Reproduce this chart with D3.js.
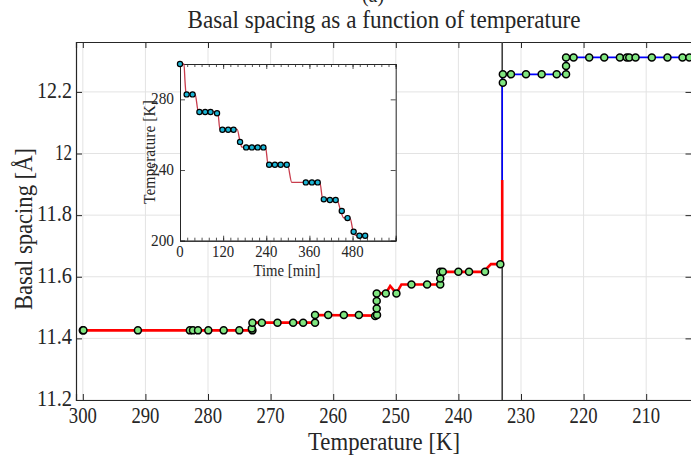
<!DOCTYPE html>
<html>
<head>
<meta charset="utf-8">
<script src="https://cdn.jsdelivr.net/npm/d3@7"></script>
<style>
  body { margin: 0; background: #fff; }
  svg { display: block; }
  text { font-family: "Liberation Serif", "DejaVu Serif", serif; fill: #262626; }
</style>
</head>
<body>
<div id="graph"></div>
<script>
// main axes ticks
const xTicks = [300, 290, 280, 270, 260, 250, 240, 230, 220, 210];
const yTicks = [11.2, 11.4, 11.6, 11.8, 12, 12.2];
const transitionT = 233;

// cooling trace (red) and measured points, [temperature K, spacing Å]
const coolLine = [[300, 11.426], [272.9, 11.426], [272.9, 11.451], [262.9, 11.451], [262.9, 11.476],
  [253.05, 11.474], [253.05, 11.546], [251.6, 11.546], [250.9, 11.57], [249.9, 11.546], [249.1, 11.575],
  [242.9, 11.575], [242.9, 11.616], [236, 11.616], [234.8, 11.641], [233.3, 11.641], [233.0, 11.65], [233.0, 11.914]];
const coolPts = [[300, 11.426], [299.9, 11.426], [291.2, 11.426], [282.9, 11.426], [282.4, 11.426], [281.6, 11.426],
  [279.95, 11.426], [277.5, 11.426], [275.0, 11.426], [272.9, 11.426], [273.0, 11.432], [272.9, 11.451],
  [271.4, 11.451], [268.9, 11.451], [266.4, 11.451], [264.8, 11.451], [262.9, 11.451], [262.9, 11.476],
  [260.8, 11.476], [258.3, 11.476], [255.9, 11.476], [253.3, 11.473], [253.0, 11.476], [253.05, 11.497],
  [253.05, 11.521], [253.05, 11.546], [251.6, 11.546], [249.9, 11.546], [247.5, 11.575], [245.0, 11.575],
  [242.9, 11.575], [242.9, 11.594], [242.9, 11.616], [242.5, 11.616], [240.0, 11.616], [238.3, 11.616],
  [235.75, 11.616], [233.3, 11.641]];

// after the transition (blue)
const heatLine = [[233.0, 11.64], [233.0, 12.257], [222.8, 12.257], [222.8, 12.312], [202, 12.312]];
const heatPts = [[232.9, 12.257], [232.9, 12.23], [231.6, 12.257], [229.2, 12.257], [226.7, 12.257],
  [224.3, 12.257], [222.8, 12.257], [222.8, 12.284], [222.8, 12.312], [221.6, 12.312], [219.1, 12.312],
  [216.7, 12.312], [214.2, 12.312], [213.1, 12.312], [212.7, 12.312], [211.7, 12.312], [209.1, 12.312],
  [206.6, 12.312], [204.2, 12.312], [203.1, 12.312]];

// inset: temperature vs time, [min, K]
const insetXTicks = [0, 120, 240, 360, 480];
const insetYTicks = [200, 240, 280];
const insetLine = [[0, 300], [11, 300], [14, 290], [17, 283], [42, 283], [51, 273], [105, 273], [111, 263],
  [159, 263], [167, 256], [172, 253], [238, 253], [245, 243], [299, 243], [311, 233], [389, 233], [397, 223.5],
  [436, 223.2], [447, 217], [455, 213], [473, 212.8], [482, 205], [489, 203], [520, 202.8]];
const insetPts = [[0, 300], [18.5, 282.8], [35, 282.8], [54, 272.8], [70, 272.8], [85, 272.8], [103, 272.1],
  [118, 262.8], [134, 262.8], [149, 262.8], [167, 255.9], [184, 252.8], [200, 252.8], [216, 252.8], [232, 252.8],
  [248, 243], [264, 243], [280, 243], [297, 243], [350, 233], [367, 233], [383, 233], [400, 223.4], [417, 223],
  [433, 223], [450, 216.8], [466, 212.8], [483, 205.1], [499, 202.8], [515, 202.8]];

const W = 691, H = 457;
const svg = d3.select("#graph").append("svg").attr("width", W).attr("height", H);
const axisCol = "#262626", gridCol = "#e3e3e3";

// fit a label to a measured width
const label = (g, txt, x, y, size, width, anchor) => {
  const t = g.append("text").attr("x", x).attr("y", y).attr("font-size", size)
    .attr("text-anchor", anchor || "middle").text(txt);
  if (width) t.attr("textLength", width).attr("lengthAdjust", "spacingAndGlyphs");
  return t;
};

const x = d3.scaleLinear().domain([301.09, 202.68]).range([76, 692]);
const y = d3.scaleLinear().domain([11.2, 12.362]).range([400, 42]);

const plot = svg.append("g");
// grid
plot.selectAll(".gx").data(xTicks).enter().append("line")
  .attr("x1", d => x(d)).attr("x2", d => x(d)).attr("y1", y.range()[0]).attr("y2", y.range()[1])
  .attr("stroke", gridCol).attr("stroke-width", 1);
plot.selectAll(".gy").data(yTicks).enter().append("line")
  .attr("x1", x.range()[0]).attr("x2", x.range()[1]).attr("y1", d => y(d)).attr("y2", d => y(d))
  .attr("stroke", gridCol).attr("stroke-width", 1);

// axes (inward ticks)
const axBottom = plot.append("g").attr("transform", `translate(0,${y.range()[0]})`)
  .call(d3.axisTop(x).tickValues(xTicks).tickSize(6).tickFormat(""));
const axTop = plot.append("g").attr("transform", `translate(0,${y.range()[1]})`)
  .call(d3.axisBottom(x).tickValues(xTicks).tickSize(6).tickFormat(""));
const axLeft = plot.append("g").attr("transform", `translate(${x.range()[0]},0)`)
  .call(d3.axisRight(y).tickValues(yTicks).tickSize(6).tickFormat(""));
const axRight = plot.append("g").attr("transform", `translate(${x.range()[1] - 0.5},0)`)
  .call(d3.axisLeft(y).tickValues(yTicks).tickSize(6).tickFormat(""));
[axBottom, axTop, axLeft, axRight].forEach(a => {
  a.selectAll("path").attr("stroke", axisCol).attr("stroke-width", 1.2);
  a.selectAll("line").attr("stroke", axisCol).attr("stroke-width", 1);
});

// tick labels
xTicks.forEach(d => label(plot, d3.format("d")(d), x(d), 423, 23, 28));
yTicks.forEach(d => label(plot, d3.format(".1f")(d).replace(".0", ""), 72, y(d) + 6, 23, d === 12 ? 17 : 35, "end"));

// transition line
plot.append("line").attr("x1", x(transitionT)).attr("x2", x(transitionT))
  .attr("y1", y.range()[0]).attr("y2", y.range()[1]).attr("stroke", "#404040").attr("stroke-width", 1.6);

const line = d3.line().x(d => x(d[0])).y(d => y(d[1]));
svg.append("clipPath").attr("id", "clipMain").append("rect")
  .attr("x", 76).attr("y", 42 - 6).attr("width", 620).attr("height", 370);
const data = plot.append("g").attr("clip-path", "url(#clipMain)");
data.append("path").datum(heatLine).attr("d", line).attr("fill", "none").attr("stroke", "#0000ff").attr("stroke-width", 1.6);
data.append("path").datum(coolLine).attr("d", line).attr("fill", "none").attr("stroke", "#ff0000").attr("stroke-width", 2.6);
data.selectAll(".pt").data(coolPts.concat(heatPts)).enter().append("circle")
  .attr("cx", d => x(d[0])).attr("cy", d => y(d[1])).attr("r", 3.5)
  .attr("fill", "#80e680").attr("stroke", "#000").attr("stroke-width", 1.5);

// titles (the panel letter sits cut off at the top edge, as in the source figure)
label(svg, "(a)", 373, 2, 20);
label(svg, "Basal spacing as a function of temperature", 384, 28, 26, 393);
label(svg, "Temperature [K]", 384, 450, 25, 152);
svg.append("text").attr("transform", "translate(32,229) rotate(-90)").attr("font-size", 25)
  .attr("text-anchor", "middle").attr("textLength", 162).attr("lengthAdjust", "spacingAndGlyphs")
  .text("Basal spacing [Å]");

// inset
const ix = d3.scaleLinear().domain([0, 600]).range([180, 395.7]);
const iy = d3.scaleLinear().domain([200, 300]).range([240.7, 64]);
const inset = svg.append("g");
inset.append("rect").attr("x", 180).attr("y", 64).attr("width", 215.7).attr("height", 176.7).attr("fill", "#fff");
const minor = d3.range(0, 601, 20);
const ib = inset.append("g").attr("transform", `translate(0,${iy.range()[0]})`)
  .call(d3.axisTop(ix).tickValues(minor).tickSize(3).tickFormat(""));
const it = inset.append("g").attr("transform", `translate(0,${iy.range()[1]})`)
  .call(d3.axisBottom(ix).tickValues(minor).tickSize(3).tickFormat(""));
const ibM = inset.append("g").attr("transform", `translate(0,${iy.range()[0]})`)
  .call(d3.axisTop(ix).tickValues(insetXTicks).tickSize(5).tickFormat(""));
const itM = inset.append("g").attr("transform", `translate(0,${iy.range()[1]})`)
  .call(d3.axisBottom(ix).tickValues(insetXTicks).tickSize(5).tickFormat(""));
const il = inset.append("g").attr("transform", `translate(${ix.range()[0]},0)`)
  .call(d3.axisRight(iy).tickValues(insetYTicks).tickSize(5).tickFormat(""));
const ir = inset.append("g").attr("transform", `translate(${ix.range()[1]},0)`)
  .call(d3.axisLeft(iy).tickValues(insetYTicks).tickSize(5).tickFormat(""));
[ib, it, ibM, itM, il, ir].forEach(a => {
  a.selectAll("path").attr("stroke", axisCol).attr("stroke-width", 1);
  a.selectAll("line").attr("stroke", axisCol).attr("stroke-width", 0.8);
});
insetXTicks.forEach(d => label(inset, String(d), ix(d), 257, 16, String(d).length * 7.4));
insetYTicks.forEach(d => label(inset, String(d), 174, iy(d) + 5, 16, 23, "end"));
label(inset, "Time [min]", 287, 276, 16, 67);
inset.append("text").attr("transform", "translate(155,152) rotate(-90)").attr("font-size", 16)
  .attr("text-anchor", "middle").attr("textLength", 104).attr("lengthAdjust", "spacingAndGlyphs")
  .text("Temperature [K]");

const iline = d3.line().x(d => ix(d[0])).y(d => iy(d[1])).curve(d3.curveMonotoneX);
inset.append("path").datum(insetLine).attr("d", iline).attr("fill", "none")
  .attr("stroke", "#c83c4c").attr("stroke-width", 1.3);
inset.selectAll(".ipt").data(insetPts).enter().append("circle")
  .attr("cx", d => ix(d[0])).attr("cy", d => iy(d[1])).attr("r", 2.6)
  .attr("fill", "#1ab4d4").attr("stroke", "#000").attr("stroke-width", 1.2);
</script>
</body>
</html>
